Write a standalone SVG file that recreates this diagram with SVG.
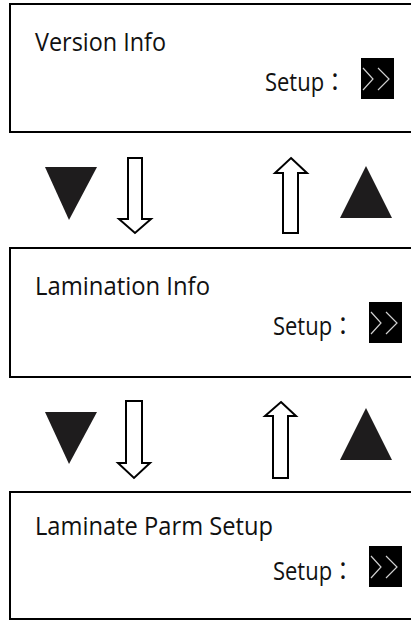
<svg xmlns="http://www.w3.org/2000/svg" width="411" height="620" viewBox="0 0 411 620">
  <defs>
    <style>
      .frame { fill: #ffffff; stroke: #000000; stroke-width: 2; }
      .title { font-family: "Open Sans", "Noto Sans", sans-serif; font-size: 25px; fill: #111111; }
      .setup { font-family: "Open Sans", "Noto Sans", "Noto Sans CJK JP", sans-serif; font-size: 25px; fill: #111111; }
      .btn { fill: #000000; }
      .chev { fill: none; stroke: #d0d0d0; stroke-width: 1.2; }
      .tri { fill: #1e1c1d; }
      .harrow { fill: #ffffff; stroke: #000000; stroke-width: 2; stroke-linejoin: miter; }
    </style>
    <g id="go">
      <rect class="btn" x="0" y="0" width="33" height="41"/>
      <polyline class="chev" points="2,10 12,21 2,32"/>
      <polyline class="chev" points="17,10 28,21 17,32"/>
    </g>
  </defs>
  <rect x="0" y="0" width="411" height="620" fill="#ffffff"/>

  <g id="node-version-info">
    <rect class="frame" x="10" y="4" width="420" height="128"/>
    <text class="title" x="35" y="51" textLength="131" lengthAdjust="spacingAndGlyphs">Version Info</text>
    <text class="setup" x="265" y="91" textLength="81" lengthAdjust="spacingAndGlyphs">Setup：</text>
    <use href="#go" x="361" y="58"/>
  </g>

  <g id="node-lamination-info">
    <rect class="frame" x="10" y="248" width="420" height="129"/>
    <text class="title" x="35" y="295" textLength="175" lengthAdjust="spacingAndGlyphs">Lamination Info</text>
    <text class="setup" x="273" y="335" textLength="81" lengthAdjust="spacingAndGlyphs">Setup：</text>
    <use href="#go" x="369" y="302"/>
  </g>

  <g id="node-laminate-parm-setup">
    <rect class="frame" x="10" y="492" width="420" height="127"/>
    <text class="title" x="35" y="535" textLength="238" lengthAdjust="spacingAndGlyphs">Laminate Parm Setup</text>
    <text class="setup" x="273" y="580" textLength="81" lengthAdjust="spacingAndGlyphs">Setup：</text>
    <use href="#go" x="369" y="546"/>
  </g>

  <g id="key-down-1">
    <polygon class="tri" points="45,167 97,167 69,220"/>
  </g>
  <g id="key-up-1">
    <polygon class="tri" points="366,166 392,218 340,218"/>
  </g>
  <g id="key-down-2">
    <polygon class="tri" points="45,412 97,412 69,464"/>
  </g>
  <g id="key-up-2">
    <polygon class="tri" points="366,408 392,460 340,460"/>
  </g>

  <g id="connectors">
    <polygon class="harrow" points="128,158 142,158 142,219 151,219 135,233 119,219 128,219"/>
    <polygon class="harrow" points="291,158 307,173 298,173 298,233 283,233 283,173 275,173"/>
    <polygon class="harrow" points="126,401 142,401 142,463 150,463 134,478 118,463 126,463"/>
    <polygon class="harrow" points="281,402 296,416 288,416 288,478 273,478 273,416 265,416"/>
  </g>
</svg>
